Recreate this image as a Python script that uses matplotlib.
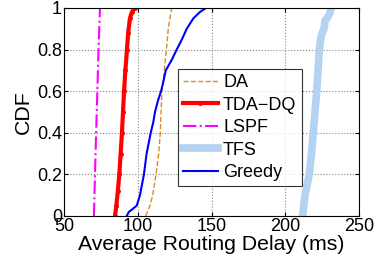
import matplotlib.pyplot as plt

plt.rcParams['font.family'] = ['Liberation Sans', 'DejaVu Sans']

# CDF points (delay in ms, cumulative fraction)
da_x = [105.4, 106.5, 108.3, 110.1, 112.4, 114.2, 115.3, 115.8, 116.4, 117.2, 118.0, 119.4, 120.7, 121.8, 123.0]
da_y = [0.0, 0.02, 0.05, 0.1, 0.2, 0.3, 0.4, 0.5, 0.6, 0.65, 0.7, 0.8, 0.9, 0.95, 1.0]

tda_x = [84.6, 85.5, 86.5, 87.5, 88.4, 89.3, 90.0, 90.7, 91.6, 92.7, 93.5, 94.7, 96.0, 98.1]
tda_y = [0.0, 0.05, 0.12, 0.2, 0.3, 0.4, 0.5, 0.6, 0.7, 0.8, 0.88, 0.95, 0.98, 1.0]

lspf_x = [70.3, 71.0, 71.8, 72.6, 73.4, 74.4]
lspf_y = [0.0, 0.2, 0.4, 0.6, 0.8, 1.0]

tfs_x = [211.8, 212.5, 213.4, 216.3, 217.8, 219.0, 220.2, 221.3, 222.2, 223.1, 224.0, 225.0, 226.3, 227.0, 229.2, 230.5, 231.0]
tfs_y = [0.0, 0.05, 0.1, 0.2, 0.3, 0.4, 0.5, 0.6, 0.7, 0.8, 0.85, 0.88, 0.9, 0.94, 0.96, 0.98, 1.0]

greedy_x = [92.5, 94.0, 95.9, 99.3, 101.5, 104.2, 106.0, 108.8, 110.5, 111.7, 113.5, 115.8, 117.5, 119.0, 123.0, 126.4, 130.0, 133.2, 137.7, 142.0, 146.3]
greedy_y = [0.0, 0.02, 0.03, 0.05, 0.1, 0.2, 0.3, 0.4, 0.45, 0.5, 0.55, 0.6, 0.65, 0.7, 0.75, 0.8, 0.85, 0.9, 0.95, 0.98, 1.0]

fig = plt.figure(figsize=(3.74, 2.68), dpi=100)
ax = fig.add_axes([64/374, 1 - 216/268, 295/374, 208/268])

ax.plot(da_x, da_y, linestyle='--', color='#dd8a22', linewidth=1.0, label='DA')
ax.plot(tda_x, tda_y, linestyle='-', color='#ff0000', linewidth=3.0, marker='.', markersize=5, label='TDA\u2212DQ')
ax.plot(lspf_x, lspf_y, linestyle='-.', color='#ff00ff', linewidth=1.5, label='LSPF')
ax.plot(tfs_x, tfs_y, linestyle='-', color='#b4d2f2', linewidth=5.5, marker='.', markersize=5, label='TFS')
ax.plot(greedy_x, greedy_y, linestyle='-', color='#0000ff', linewidth=1.5, label='Greedy')

ax.set_xlim(50, 250)
ax.set_ylim(0, 1)
ax.set_xticks([50, 100, 150, 200, 250])
ax.set_yticks([0, 0.2, 0.4, 0.6, 0.8, 1])
ax.set_yticklabels(['0', '0.2', '0.4', '0.6', '0.8', '1'])
ax.tick_params(direction='in', top=True, right=True, labelsize=13, length=3, pad=1.5)
ax.grid(True, linestyle=':', color='#888888', linewidth=0.8)
ax.set_xlabel('Average Routing Delay (ms)', fontsize=15.3, labelpad=0)
ax.set_ylabel('CDF', fontsize=15.3, labelpad=3)

leg = ax.legend(loc='upper left', bbox_to_anchor=(0.386, 0.707),
                fontsize=13, frameon=True, fancybox=False, edgecolor='black',
                handlelength=1.9, borderpad=0.3, labelspacing=0.3, handletextpad=0.3,
                borderaxespad=0)
leg.get_frame().set_linewidth(0.8)

fig.savefig('out.png', dpi=100)
